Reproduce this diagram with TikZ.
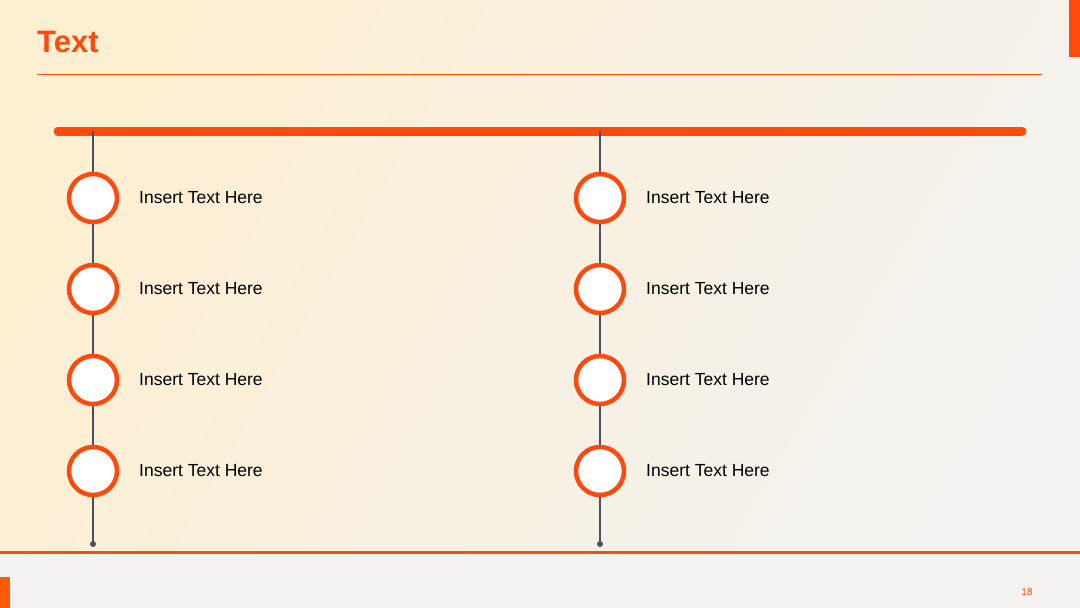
\documentclass[tikz,border=0pt]{standalone}
\usepackage{fontspec}
\setmainfont{Liberation Sans}
\definecolor{org}{HTML}{FF4A0E}
\definecolor{bgA}{HTML}{FDEFD2}
\definecolor{bgB}{HTML}{F3F2F0}
\definecolor{stem}{HTML}{4A5060}
\begin{document}
\begin{tikzpicture}[x=1pt,y=-1pt,
  ring/.style={circle,draw=org,line width=4.5pt,fill=white,minimum size=48pt,inner sep=0pt},
  lbl/.style={anchor=west,font=\fontsize{17.5pt}{20pt}\selectfont,text=black,inner sep=0pt},
  stemline/.style={draw=stem,line width=1.2pt}]
\useasboundingbox (0,0) rectangle (1080,608);
\shade[left color=bgA,right color=bgB,shading angle=60] (0,0) rectangle (1080,608);
\fill[bgB] (0,552) rectangle (1080,608);
\fill[org] (1069,0) rectangle (1080,57);
\fill[org!70!orange] (0,577) rectangle (10,608);
\node[anchor=west,font=\bfseries\fontsize{31pt}{36pt}\selectfont,text=org,inner sep=0pt] (title) at (37,42) {Text};
\draw[org,line width=0.6pt] (37,74) -- (1042,74);
\draw[org,line width=3pt] (0,552) -- (1080,552);
\draw[org,line width=9pt,line cap=round] (58,131) -- (1022,131);
\node[text=org,font=\fontsize{10pt}{12pt}\selectfont,inner sep=0pt] (pg) at (1027,592) {18};
\foreach \c/\x in {L/93,R/600}{
  \coordinate (\c top) at (\x,131);
  \coordinate (\c bot) at (\x,544);
  \draw[stemline] (\c top) -- (\c bot);
  \fill[stem] (\c bot) circle (3pt);
  \foreach \i/\y in {1/198,2/289,3/380,4/471}{
    \node[ring] (\c\i) at (\x,\y) {};
    \node[lbl] (\c t\i) at (\x+46,\y) {Insert Text Here};
  }
}
\end{tikzpicture}
\end{document}
